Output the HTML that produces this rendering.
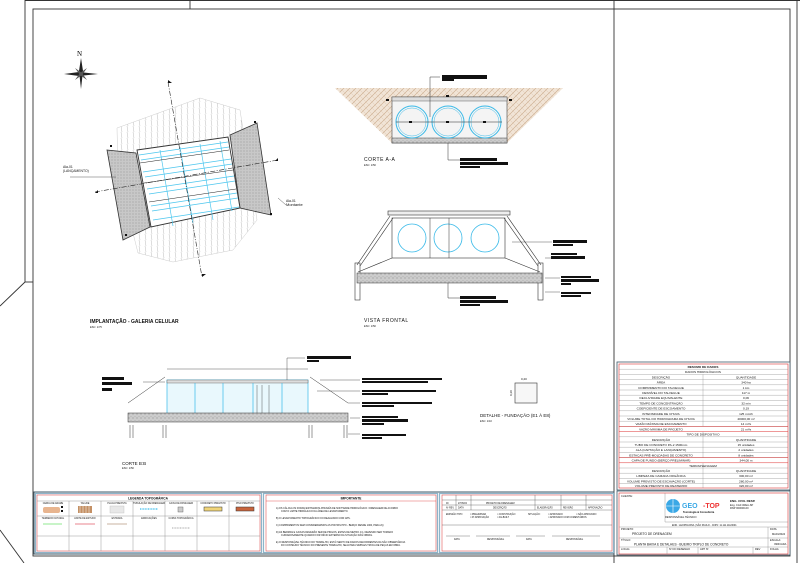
<!DOCTYPE html>
<html><head><meta charset="utf-8"><style>
html,body{margin:0;padding:0;background:#fff}
svg{display:block;font-family:"Liberation Sans",sans-serif}
.t{font-size:3.4px;fill:#111}
.b{font-weight:bold}
</style></head><body>
<svg width="800" height="563" viewBox="0 0 800 563" xmlns="http://www.w3.org/2000/svg">
<defs>
<pattern id="soil" width="6" height="6" patternUnits="userSpaceOnUse">
<rect width="6" height="6" fill="#f1e4d6"/>
<path d="M0 6L6 0M-1 1L1 -1M5 7L7 5" stroke="#c9a98a" stroke-width="0.6"/>
<path d="M0 0L6 6" stroke="#dcc3aa" stroke-width="0.4"/>
</pattern>
<pattern id="dots" width="3" height="3" patternUnits="userSpaceOnUse">
<rect width="3" height="3" fill="#c8c8c8"/><circle cx="1" cy="1" r="0.5" fill="#888"/>
</pattern>
<pattern id="conc" width="4" height="4" patternUnits="userSpaceOnUse">
<rect width="4" height="4" fill="#ccc"/><circle cx="1" cy="2" r="0.5" fill="#777"/><circle cx="3" cy="0.7" r="0.4" fill="#999"/>
</pattern>
<pattern id="hatch" width="6" height="6" patternUnits="userSpaceOnUse">
<path d="M1 0L2 6" stroke="#bbb" stroke-width="0.5"/>
</pattern>
</defs>

<!-- sheet frames -->
<g fill="none" stroke="#333" stroke-width="0.9">
<path d="M25 0.5H800"/>
<path d="M25 0V282L0 306"/>
<path d="M25 282H33"/>
<path d="M0 530L24 563"/>
<path d="M190 0V9"/>
<rect x="33" y="9" width="757" height="547"/>
<path d="M614 0V563"/>
<path d="M797 0V563"/>
</g>

<!-- ============ IMPLANTACAO ============ -->
<path d="M117 128L200 98L240 110L257 220L233 250L173 262L138 253L118 173Z" fill="url(#hatch)" stroke="#ccc" stroke-width="0.5"/>
<path d="M107 150L136 153L150 227L123 240Z" fill="url(#dots)" stroke="#333" stroke-width="0.8"/>
<path d="M230 135L257 123L271 215L240 208Z" fill="url(#dots)" stroke="#333" stroke-width="0.8"/>
<path d="M137 150L228 137L240 208L151 227Z" fill="#fff" stroke="#333" stroke-width="0.9"/>
<g stroke="#4cc6ee" stroke-width="0.7" fill="none">
<path d="M139 155L228 142M141 160L229 147M143 172L231 159M145 177L232 164M147 189L234 176M149 194L235 181M151 206L237 193M152 211L238 198M153 220L239 207"/>
<path d="M160 150L173 226M180 147L193 223M200 144L213 220M220 141L232 211"/>
</g>
<g stroke="#222" stroke-width="0.5" fill="none">
<path d="M140 163L229 150M144 183L233 170M149 202L236 189"/>
</g>
<path d="M168 82L202 277M95 192L278 160" stroke="#222" stroke-width="0.6" stroke-dasharray="5 1.5 1 1.5" fill="none"/>
<g fill="#111"><path d="M168 80l4 3h-4z"/><path d="M202 277l4 -3h-4z"/><path d="M95 193l3 -3v3z"/><path d="M278 158l-3 3h3z"/>
<rect x="110" y="145" width="2" height="2"/><rect x="254" y="121" width="2" height="2"/><rect x="270" y="213" width="2" height="2"/><rect x="125" y="234" width="2" height="2"/></g>
<path d="M70 177H116M278 198L286 205" stroke="#333" stroke-width="0.4"/>
<text class="t" x="63" y="168">Ala-01</text><text class="t" x="63" y="172">(LANÇAMENTO)</text>
<text class="t" x="286" y="202">Ala-01</text><text class="t" x="286" y="206" style="font-size:4px">Montante</text>
<!-- compass -->
<text x="77" y="56" style="font-size:7px;font-family:'Liberation Serif',serif">N</text>
<g fill="#222"><path d="M81 58L83 71L81 89L79 71Z"/><path d="M64 74L79 72L98 74L79 76Z"/><path d="M75 68L82 73L87 80L80 75Z" fill="#555"/><path d="M87 68L82 75L75 80L80 73Z" fill="#555"/></g>
<text class="t b" x="90" y="323" style="font-size:5px">IMPLANTAÇÃO - GALERIA CELULAR</text>
<text class="t" x="90" y="328" style="font-size:2.6px">ESC: 1/75</text>

<!-- ============ CORTE A-A ============ -->
<path d="M335 88H563L507 143H392Z" fill="url(#soil)"/>
<rect x="392" y="97" width="115" height="46" fill="#f4f4f4" stroke="#444" stroke-width="0.6"/>
<rect x="392" y="138" width="115" height="5" fill="url(#conc)" stroke="#444" stroke-width="0.5"/>
<rect x="392" y="97" width="115" height="4" fill="#ddd" stroke="#444" stroke-width="0.4"/>
<g fill="none" stroke="#37b9e8" stroke-width="1"><circle cx="412" cy="122" r="16"/><circle cx="448" cy="122" r="16"/><circle cx="485" cy="122" r="16"/>
<circle cx="412" cy="122" r="14" stroke-width="0.5"/><circle cx="448" cy="122" r="14" stroke-width="0.5"/><circle cx="485" cy="122" r="14" stroke-width="0.5"/></g>
<path d="M396 122H502" stroke="#222" stroke-width="0.5"/>
<g fill="#111"><rect x="409" y="121" width="3" height="2"/><rect x="446" y="121" width="3" height="2"/><rect x="483" y="121" width="3" height="2"/><rect x="446" y="95" width="3" height="2"/><rect x="386" y="99" width="3" height="2"/><rect x="509" y="99" width="3" height="2"/></g>
<path d="M430 117V77H440M448 143V160H460" stroke="#333" stroke-width="0.5" fill="none"/>
<rect x="442" y="75" width="45" height="4" fill="#111"/><rect x="442" y="79" width="12" height="2" fill="#111"/>
<rect x="460" y="158" width="37" height="3" fill="#111"/><rect x="460" y="162" width="48" height="3" fill="#111"/><rect x="460" y="166" width="20" height="2" fill="#111"/>
<text class="t" x="364" y="161" style="font-size:5px;letter-spacing:0.5px">CORTE A-A</text>
<text class="t" x="364" y="166" style="font-size:2.6px">ESC: 1/50</text>

<!-- ============ VISTA FRONTAL ============ -->
<rect x="388" y="211" width="122" height="4" fill="#eee" stroke="#333" stroke-width="0.6"/>
<rect x="392" y="218" width="113" height="40" fill="#fff" stroke="#333" stroke-width="0.6"/>
<g fill="none" stroke="#37b9e8" stroke-width="0.8"><circle cx="412" cy="238" r="14"/><circle cx="448" cy="238" r="14"/><circle cx="485" cy="238" r="14"/></g>
<path d="M449 218V258M430 218V258" stroke="#333" stroke-width="0.5"/>
<g stroke="#333" stroke-width="0.6" fill="none">
<path d="M390 216L357 265M393 218L360 266M507 216L541 265M504 218L538 266M392 258L358 272M505 258L540 272"/>
<rect x="355" y="263" width="5" height="37"/><rect x="538" y="263" width="5" height="37"/>
</g>
<rect x="357" y="273" width="185" height="10" fill="url(#conc)" stroke="#333" stroke-width="0.5"/>
<path d="M448 283V298H460" stroke="#333" stroke-width="0.5" fill="none"/>
<rect x="460" y="296" width="36" height="3" fill="#111"/><rect x="460" y="300" width="48" height="3" fill="#111"/><rect x="460" y="304" width="20" height="2" fill="#111"/>
<path d="M512 242H552M545 258H552M545 278H560M545 292H560" stroke="#333" stroke-width="0.4"/>
<rect x="553" y="240" width="34" height="3" fill="#111"/><rect x="553" y="244" width="20" height="2" fill="#111"/>
<rect x="551" y="253" width="26" height="2" fill="#111"/><rect x="551" y="256" width="34" height="3" fill="#111"/>
<rect x="561" y="276" width="30" height="2" fill="#111"/><rect x="561" y="279" width="38" height="3" fill="#111"/><rect x="561" y="283" width="10" height="2" fill="#111"/>
<rect x="561" y="292" width="30" height="2" fill="#111"/><rect x="561" y="295" width="20" height="2" fill="#111"/>
<text class="t" x="364" y="322" style="font-size:5px;letter-spacing:0.5px">VISTA FRONTAL</text>
<text class="t" x="364" y="327" style="font-size:2.6px">ESC: 1/50</text>

<!-- ============ CORTE B-B ============ -->
<path d="M167 369H308" stroke="#333" stroke-width="0.4"/>
<rect x="167" y="380" width="141" height="35" fill="#e9f8fd" stroke="#37b9e8" stroke-width="0.7"/>
<rect x="167" y="380" width="141" height="3" fill="#ddd" stroke="#555" stroke-width="0.4"/>
<path d="M195 383V415M223 383V415M253 383V415M282 383V415" stroke="#37b9e8" stroke-width="0.7"/>
<path d="M257 385V414M262 385V414M269 385V414" stroke="#333" stroke-width="0.4"/>
<path d="M165 377L128 403M310 377L348 403M308 415V413" stroke="#333" stroke-width="0.5" fill="none"/>
<rect x="128" y="413" width="220" height="9" fill="url(#conc)" stroke="#333" stroke-width="0.5"/>
<g stroke="#333" stroke-width="0.5"><path d="M130 425V438M133 425V438M163 425V438M166 425V438M309 425V438M312 425V438M344 425V438M347 425V438"/></g>
<rect x="102" y="377" width="22" height="3" fill="#111"/><rect x="102" y="382" width="30" height="3" fill="#111"/><rect x="102" y="388" width="10" height="3" fill="#111"/>
<path d="M143 382H165" stroke="#333" stroke-width="0.4"/>
<path d="M287 380V358H305" stroke="#333" stroke-width="0.4" fill="none"/>
<rect x="307" y="356" width="44" height="3" fill="#111"/><rect x="307" y="360" width="12" height="2" fill="#111"/>
<path d="M320 380H360M317 391H360M348 403H360M350 418H360M348 434H360" stroke="#333" stroke-width="0.4"/>
<rect x="362" y="378" width="80" height="2" fill="#111"/><rect x="362" y="381" width="66" height="2" fill="#111"/>
<rect x="362" y="390" width="74" height="2" fill="#111"/><rect x="362" y="393" width="26" height="2" fill="#111"/>
<rect x="362" y="402" width="70" height="2" fill="#111"/><rect x="362" y="405" width="32" height="2" fill="#111"/>
<rect x="362" y="416" width="36" height="2" fill="#111"/><rect x="362" y="419" width="46" height="3" fill="#111"/><rect x="362" y="423" width="22" height="2" fill="#111"/>
<rect x="362" y="434" width="44" height="2" fill="#111"/><rect x="362" y="437" width="20" height="2" fill="#111"/>
<text class="t" x="122" y="465" style="font-size:4.5px">CORTE B:B</text>
<text class="t" x="122" y="469" style="font-size:2.6px">ESC: 1/50</text>
<!-- detalhe -->
<rect x="515" y="383" width="22" height="20" fill="#f7f7f7" stroke="#333" stroke-width="0.6"/>
<text class="t" x="521" y="380" style="font-size:3px">0,20</text>
<text class="t" x="512" y="396" style="font-size:3px" transform="rotate(-90 512 396)">0,20</text>
<text class="t" x="480" y="417" style="font-size:4.5px">DETALHE - FUNDAÇÃO (E1 À E8)</text>
<text class="t" x="480" y="422" style="font-size:2.6px">ESC: 1/10</text>

<!-- ============ BOTTOM BAR ============ -->
<rect x="34" y="492" width="580" height="62" fill="#fff" stroke="#3f5a6a" stroke-width="1"/>
<rect x="35.5" y="493.5" width="226" height="59" fill="none" stroke="#8eb4c9" stroke-width="1.2"/>
<rect x="37" y="495" width="223" height="56" fill="none" stroke="#d33" stroke-width="0.5"/>
<g stroke="#999" stroke-width="0.5" fill="none">
<path d="M37 501H260M37 516H260M37 536H260"/>
<path d="M69 501V551M101 501V551M133 501V551M165 501V551M197 501V551M229 501V551"/>
</g>
<text class="t b" x="148" y="499.5" text-anchor="middle" style="font-size:3.2px">LEGENDA TOPOGRÁFICA</text>
<g class="t" style="font-size:2.3px" text-anchor="middle">
<text x="53" y="504">CERCA DE ARAME</text><text x="85" y="504">TALUDE</text><text x="117" y="504">PLACA PREVISTA</text><text x="149" y="504">TUBULAÇÃO DE DRENAGEM</text><text x="181" y="504">CAIXA DE PASSAGEM</text><text x="213" y="504">CONCRETO PREVISTO</text><text x="245" y="504">PISO PREVISTO</text>
<text x="53" y="519">TERRENO NATURAL</text><text x="85" y="519">LIMITE DE ESTUDO</text><text x="117" y="519">ESTRADA</text><text x="149" y="519">EDIFICAÇÕES</text><text x="181" y="519">CURVA TOPOGRÁFICA</text>
</g>
<rect x="43" y="507" width="17" height="6" rx="2" fill="#e8b58f"/><rect x="61" y="506" width="2" height="2" fill="#111"/><rect x="61" y="510" width="2" height="2" fill="#111"/>
<rect x="78" y="506" width="14" height="7" fill="#c49064"/><path d="M80 506V513M83 506V513M86 506V513M89 506V513" stroke="#fff" stroke-width="0.5"/>
<rect x="110" y="506" width="14" height="7" fill="#e8e8e8" stroke="#bbb" stroke-width="0.4"/>
<path d="M140 509H158" stroke="#5cc8f0" stroke-width="1.5" stroke-dasharray="1 0.6"/>
<rect x="178" y="507" width="5" height="5" fill="#ccc" stroke="#555" stroke-width="0.4"/>
<rect x="204" y="507" width="18" height="4" fill="#f0d479" stroke="#333" stroke-width="0.5"/>
<rect x="236" y="507" width="18" height="4" fill="#c8643c" stroke="#333" stroke-width="0.5"/>
<path d="M43 524H62" stroke="#6ee06e" stroke-width="0.8"/><path d="M75 524H95" stroke="#e05c6a" stroke-width="0.8"/><path d="M107 524H127" stroke="#b89a80" stroke-width="0.8"/><path d="M172 528H190" stroke="#555" stroke-width="0.5" stroke-dasharray="1 0.6"/>
<rect x="263.5" y="493.5" width="174" height="59" fill="none" stroke="#8eb4c9" stroke-width="1.2"/>
<rect x="266" y="495" width="170" height="56" fill="none" stroke="#d33" stroke-width="0.5"/>
<path d="M266 501H436" stroke="#d33" stroke-width="0.4"/>
<text class="t b" x="351" y="499.5" text-anchor="middle" style="font-size:3.2px">IMPORTANTE</text>
<g class="t" style="font-size:2.4px">
<text x="276" y="509">A) OS CÁLCULOS FORAM ESTIMADOS ATRAVÉS DE SOFTWARE HIDROLÓGICO / DRENAGEM DE ACORDO</text><text x="281" y="512">COM O LIMITE HIDRÁULICO DA ÁREA DE LEVANTAMENTO.</text>
<text x="276" y="519">B) O LEVANTAMENTO TOPOGRÁFICO FOI REALIZADO COM GPS.</text>
<text x="276" y="526">C) COMPRIMENTOS SEM CONSIDERARMOS AS PONTAS PPO - BERÇO DESDE 1000, PARA 2Q.</text>
<text x="276" y="533">D) AS BERMAS E CAIXAS DEVERÃO SER DE PINGOS, ESTES DE METRO (m), DEVENDO SER TOMADO</text><text x="281" y="536">CUIDADOSAMENTE QUANDO FOR INÍCIO EXTERNO DA SITUAÇÃO DAS OBRAS.</text>
<text x="276" y="543">E) O RESPONSÁVEL TÉCNICO DO TRABALHO, ESTÁ ISENTO DE DANOS DECORRENTES DA NÃO OBSERVÂNCIA</text><text x="281" y="546">DO CONTEÚDO TÉCNICO DO PRESENTE TRABALHO, SEJA PARA SIMPLES TROCA DE PEÇAS EM OBRA.</text>
</g>
<rect x="439.5" y="493.5" width="174" height="59" fill="none" stroke="#8eb4c9" stroke-width="1.2"/>
<rect x="442" y="495" width="170" height="56" fill="none" stroke="#d33" stroke-width="0.5"/>
<g stroke="#555" stroke-width="0.4" fill="none"><path d="M442 500H612M442 505H612M442 510H612M442 525H612"/><path d="M456 495V510M471 495V510M535 495V510M561 495V510M586 495V510"/>
<path d="M446 536H470M476 536H510M516 536H545M552 536H600"/></g>
<g class="t" style="font-size:2.3px"><text x="446" y="504">00</text><text x="458" y="504">27/05/24</text><text x="486" y="504">PROJETO DE DRENAGEM</text><text x="446" y="508.5">Nº REV.</text><text x="458" y="508.5">DATA</text><text x="493" y="508.5">DESCRIÇÃO</text><text x="537" y="508.5">ELABORAÇÃO</text><text x="563" y="508.5">REVISÃO</text><text x="588" y="508.5">APROVAÇÃO</text>
<text x="446" y="515">EMISSÃO TIPO</text><text x="470" y="515">□ PRELIMINAR</text><text x="470" y="518">□ P/ APROVAÇÃO</text><text x="497" y="515">□ CONSTRUÇÃO</text><text x="497" y="518">□ AS-BUILT</text><text x="528" y="515">SITUAÇÃO:</text><text x="548" y="515">□ APROVADO</text><text x="548" y="518">□ APROVADO COM COMENTÁRIOS</text><text x="576" y="515">□ NÃO APROVADO</text>
<text x="454" y="540">DATA</text><text x="487" y="540">RESPONSÁVEL</text><text x="526" y="540">DATA</text><text x="566" y="540">RESPONSÁVEL</text></g>

<!-- ============ DATA TABLE ============ -->
<rect x="617" y="362" width="173" height="128" fill="#fff" stroke="#3f5a6a" stroke-width="0.8"/>
<rect x="619" y="364" width="169" height="124" fill="none" stroke="#d33" stroke-width="0.6"/>
<g stroke="#888" stroke-width="0.35">
<path d="M619 369.2H788M619 374.4H788M619 379.6H788M619 384.8H788M619 390H788M619 395.2H788M619 400.4H788M619 405.6H788M619 410.8H788M619 416H788M619 421.2H788M619 426.4H788M619 436.8H788M619 442H788M619 447.2H788M619 452.4H788M619 457.6H788M619 468H788M619 473.2H788M619 478.4H788M619 483.6H788"/>
<path d="M703 374.4V426.4M703 431.6V457.6M703 462.8V488"/>
</g>
<path d="M619 426.4H788M619 431.6H788M619 457.6H788M619 462.8H788" stroke="#d33" stroke-width="0.5"/>
<g class="t" style="font-size:3.1px" text-anchor="middle">
<text x="703" y="368" class="b">RESUMO DE DADOS</text><text x="703" y="373.2">DADOS HIDROLÓGICOS</text>
<text x="661" y="378.4">DESCRIÇÃO</text><text x="746" y="378.4">QUANTIDADE</text>
<text x="661" y="383.6">ÁREA</text><text x="746" y="383.6">340 ha</text>
<text x="661" y="388.8">COMPRIMENTO DO TALVEGUE</text><text x="746" y="388.8">1 km</text>
<text x="661" y="394">DESNÍVEL DO TALVEGUE</text><text x="746" y="394">117 m</text>
<text x="661" y="399.2">DECLIVIDADE EQUIVALENTE</text><text x="746" y="399.2">0,06</text>
<text x="661" y="404.4">TEMPO DE CONCENTRAÇÃO</text><text x="746" y="404.4">32 min</text>
<text x="661" y="409.6">COEFICIENTE DE ESCOAMENTO</text><text x="746" y="409.6">0,19</text>
<text x="661" y="414.8">INTENSIDADE DE CHUVA</text><text x="746" y="414.8">125 mm/h</text>
<text x="661" y="420">VOLUME TOTAL DO HIDROGRAMA DE CHUVA</text><text x="746" y="420">40000,00 m³</text>
<text x="661" y="425.2">VAZÃO MÁXIMA DE ESCOAMENTO</text><text x="746" y="425.2">14 m³/s</text>
<text x="661" y="430.4">VAZÃO MÁXIMA DE PROJETO</text><text x="746" y="430.4">21 m³/s</text>
<text x="703" y="435.6">TIPO DE DISPOSITIVO</text>
<text x="661" y="440.8">DESCRIÇÃO</text><text x="746" y="440.8">QUANTIDADE</text>
<text x="661" y="446">TUBO DE CONCRETO PA-2 1500mm</text><text x="746" y="446">15 unidades</text>
<text x="661" y="451.2">ALA (CAPTAÇÃO E LANÇAMENTO)</text><text x="746" y="451.2">2 unidades</text>
<text x="661" y="456.4">ESTACAS PRÉ-MOLDADAS DE CONCRETO</text><text x="746" y="456.4">8 unidades</text>
<text x="661" y="461.6">CAPA DE FUNDO (BERÇO PRELIMINAR)</text><text x="746" y="461.6">344,00 m</text>
<text x="703" y="466.8">TERRAPLENAGEM</text>
<text x="661" y="472">DESCRIÇÃO</text><text x="746" y="472">QUANTIDADE</text>
<text x="661" y="477.2">LIMPEZA DE CAMADA ORGÂNICA</text><text x="746" y="477.2">300,00 m²</text>
<text x="661" y="482.4">VOLUME PREVISTO DE ESCAVAÇÃO (CORTE)</text><text x="746" y="482.4">280,00 m³</text>
<text x="661" y="487.2">VOLUME PREVISTO DE REATERRO</text><text x="746" y="487.2">320,00 m³</text>
</g>

<!-- ============ TITLE BLOCK ============ -->
<rect x="617" y="491" width="173" height="64" fill="#fff" stroke="#3f5a6a" stroke-width="0.8"/>
<rect x="619" y="493" width="169" height="61" fill="none" stroke="#d33" stroke-width="0.6"/>
<g stroke="#888" stroke-width="0.4" fill="none">
<path d="M665 493V522M665 522H788M619 527H788M619 538H788M619 547H788M768 527V554M667 547V554M698 547V554M753 547V554"/>
</g>
<g class="t" style="font-size:2.6px">
<text x="621" y="497">CLIENTE:</text>
<text x="621" y="530">PROJETO:</text><text x="632" y="535" style="font-size:3.2px">PROJETO DE DRENAGEM</text>
<text x="621" y="541">TÍTULO:</text><text x="634" y="545.5" style="font-size:3.2px">PLANTA BAIXA E DETALHES - BUEIRO TRIPLO DE CONCRETO</text>
<text x="621" y="550">LOCAL:</text><text x="669" y="550">Nº DO DESENHO</text><text x="700" y="550">ART Nº</text><text x="755" y="550">REV</text><text x="770" y="550">FOLHA</text>
<text x="770" y="530">DATA:</text><text x="772" y="535">MAIO/2024</text><text x="770" y="541">ESCALA:</text><text x="774" y="545">INDICADA</text>
<text x="672" y="526" style="font-size:2.4px">END.: LEOPOLDINA | SÃO PAULO - CNPJ: 11.111.111/0001</text>
<text x="665" y="518">RESPONSÁVEL TÉCNICO</text>
<text x="730" y="502" class="b" style="font-size:3px">ENG. CIVIL RESP.</text><text x="730" y="506">Eng. Civil CREA-SP</text><text x="730" y="509">RNP 000000-00</text>
</g>
<circle cx="673" cy="506" r="7" fill="#3aa8e6"/><path d="M666 506H680M673 499V513" stroke="#fff" stroke-width="0.6"/>
<text x="682" y="508" style="font-size:7px;font-weight:bold;fill:#3aa8e6">GEO</text>
<text x="703" y="508" style="font-size:7px;font-weight:bold;fill:#e33">-TOP</text>
<text x="683" y="513" class="t b" style="font-size:2.6px">Tecnologia &amp; Consultoria</text>
</svg>
</body></html>
